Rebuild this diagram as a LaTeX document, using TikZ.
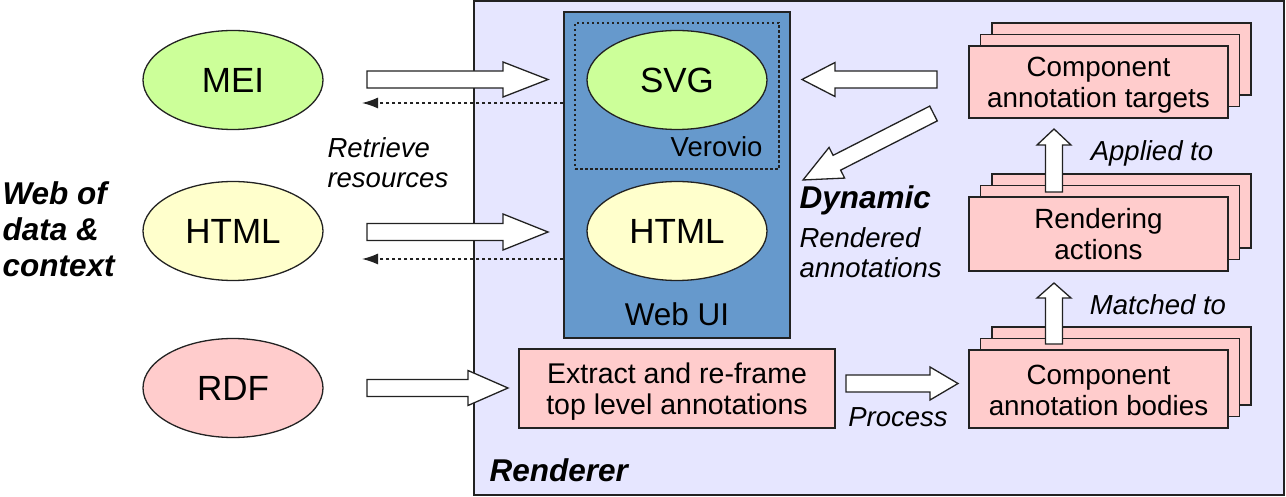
\documentclass[tikz,border=0pt]{standalone}
\usepackage{fontspec}
\setmainfont{Liberation Sans}
\usetikzlibrary{calc,arrows.meta,shapes.geometric}
\definecolor{rendfill}{HTML}{E6E6FF}
\definecolor{webfill}{HTML}{6699CC}
\definecolor{greenfill}{HTML}{CCFF99}
\definecolor{yellowfill}{HTML}{FFFFCC}
\definecolor{pinkfill}{HTML}{FFCCCC}
\definecolor{edge}{HTML}{222222}
\tikzset{
  rend/.style={draw=edge, line width=1.3pt, fill=rendfill, inner sep=0pt},
  webui/.style={draw=edge, line width=1.3pt, fill=webfill, inner sep=0pt},
  dotbox/.style={draw=edge, line width=1.1pt, dash pattern=on 2.5pt off 2.5pt, inner sep=0pt},
  ell/.style={ellipse, draw=edge, line width=1.3pt, minimum width=180pt, minimum height=99pt, inner sep=0pt, font=\fontsize{35}{40}\selectfont},
  pinkbox/.style={draw=edge, line width=1.3pt, fill=pinkfill, inner sep=0pt},
  boxtext/.style={align=center, inner sep=0pt, font=\fontsize{27.8}{31}\selectfont},
  itlabel/.style={align=left, font=\fontsize{27.5}{30}\selectfont\itshape},
  bflabel/.style={align=left, font=\fontsize{31.5}{36}\selectfont\bfseries\itshape},
  barrowstyle/.style={draw=edge, line width=1.3pt, fill=white, line join=miter},
  retarrow/.style={draw=edge, line width=1.3pt, dash pattern=on 3pt off 3pt, -{Latex[length=16pt,width=11pt]}},
}
\newcommand\blockarrow[5]{%
  \coordinate (hb) at ($(#2)!#5!(#1)$);
  \draw[barrowstyle] ($(#1)!#3!90:(#2)$) -- ($(hb)!#3!-90:(#1)$) -- ($(hb)!#4!-90:(#1)$) -- (#2) -- ($(hb)!#4!90:(#1)$) -- ($(hb)!#3!90:(#1)$) -- ($(#1)!#3!-90:(#2)$) -- cycle;
}
% name, text, x1, y1, x2, y2, text shift
\newcommand\stackbox[7]{%
  \draw[pinkbox] (#3+23,#4-23) rectangle (#5+23,#6-23);
  \draw[pinkbox] (#3+11.5,#4-11.5) rectangle (#5+11.5,#6-11.5);
  \node[pinkbox, minimum width=#5-#3, minimum height=#6-#4] (#1) at ({(#3+#5)/2},{(#4+#6)/2}) {};
  \node[boxtext] (#1-text) at ($(#1.center)+(0,#7)$) {#2};
}
\begin{document}
\begin{tikzpicture}[x=1pt,y=-1pt]
\useasboundingbox (0,0) rectangle (1286,497);
% Renderer frame
\node[rend, minimum width=810pt, minimum height=494pt] (renderer) at (879,248) {};
\node[bflabel, anchor=west] (rendlabel) at (486,470) {Renderer};
% Web UI
\node[webui, minimum width=226pt, minimum height=326pt] (webui) at (677,175) {};
\node[dotbox, minimum width=204pt, minimum height=146pt] (verovio) at (677,96) {};
\node[ell, fill=greenfill] (svg) at (677,80) {SVG};
\node[ell, fill=yellowfill] (html2) at (677,231) {HTML};
\node[anchor=east, font=\fontsize{27.5}{30}\selectfont] (verlabel) at (766,147) {Verovio};
\node[font=\fontsize{31.5}{34}\selectfont] (weblabel) at (677,314) {Web UI};
% left ellipses
\node[ell, fill=greenfill] (mei) at (233,80) {MEI};
\node[ell, fill=yellowfill] (html1) at (233,231) {HTML};
\node[ell, fill=pinkfill] (rdf) at (233,388) {RDF};
\node[bflabel, anchor=west] (web) at (-1,229) {Web of\\data \&\\context};
\node[itlabel, anchor=west] (retrieve) at (324,163) {Retrieve\\resources};
% arrows from the web
\coordinate (a1s) at (367,79.5); \coordinate (a1e) at (548,79.5);
\blockarrow{a1s}{a1e}{8.5pt}{17.5pt}{45pt}
\coordinate (a2s) at (367,232); \coordinate (a2e) at (548,232);
\blockarrow{a2s}{a2e}{8.5pt}{18pt}{45pt}
\coordinate (a3s) at (367,388); \coordinate (a3e) at (508,388);
\blockarrow{a3s}{a3e}{8.5pt}{17.5pt}{40pt}
\coordinate (r1) at (362,103); \coordinate (r2) at (362,259);
\draw[retarrow] (webui.west |- r1) -- (r1);
\draw[retarrow] (webui.west |- r2) -- (r2);
% extract box
\node[pinkbox, minimum width=316pt, minimum height=79pt] (extract) at (677,388.5) {};
\node[boxtext, font=\fontsize{28.5}{31}\selectfont] (extract-text) at ($(extract.center)+(0,3)$) {Extract and re-frame\\top level annotations};
% stacks
\stackbox{bodies}{Component\\annotation bodies}{969}{350}{1228}{428}{1}
\stackbox{actions}{Rendering\\actions}{969}{197}{1228}{271}{0.5}
\stackbox{targets}{Component\\annotation targets}{969}{46}{1228}{118}{3.5}
% process arrow
\coordinate (p1) at (846,383.5); \coordinate (p2) at (958,383.5);
\blockarrow{p1}{p2}{8.5pt}{16.5pt}{28pt}
\node[itlabel, align=center] (process) at (898,417) {Process};
% up arrows
\coordinate (u1) at (1054,344); \coordinate (u2) at (1054,283);
\blockarrow{u1}{u2}{8.5pt}{17pt}{15pt}
\coordinate (u3) at (1054,192); \coordinate (u4) at (1054,129);
\blockarrow{u3}{u4}{8.5pt}{17pt}{16pt}
\node[itlabel] (matched) at (1158,305) {Matched to};
\node[itlabel] (applied) at (1152,153) {Applied to};
% arrows back to web UI
\coordinate (l1) at (937,79.5); \coordinate (l2) at (802,79.5);
\blockarrow{l1}{l2}{8.5pt}{17pt}{33pt}
\coordinate (d1) at (933.5,113.5); \coordinate (d2) at (803,180);
\blockarrow{d1}{d2}{8.3pt}{17.2pt}{38pt}
\node[bflabel, anchor=west] (dynamic) at (796,200) {Dynamic};
\node[itlabel, anchor=west] (rendered) at (796,253) {Rendered\\annotations};
\end{tikzpicture}
\end{document}
